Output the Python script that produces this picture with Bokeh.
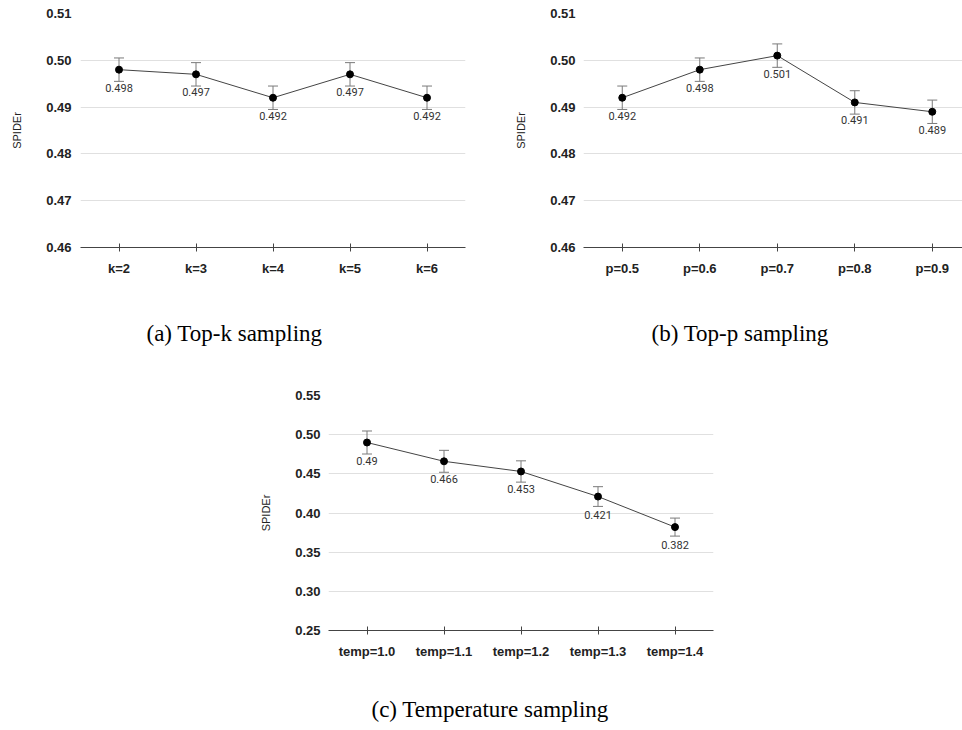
from bokeh.plotting import figure
from bokeh.models import (ColumnDataSource, Whisker, TeeHead, FixedTicker, Range1d, Spacer,
                          NumeralTickFormatter, LinearAxis, Title)
from bokeh.layouts import column, row
from bokeh.core.properties import value
from bokeh.embed import file_html
from bokeh.resources import INLINE

# ---- data ----
k_labels = ["k=2", "k=3", "k=4", "k=5", "k=6"]
k_values = [0.498, 0.497, 0.492, 0.497, 0.492]
k_errors = [0.0025, 0.0025, 0.0025, 0.0025, 0.0025]

p_labels = ["p=0.5", "p=0.6", "p=0.7", "p=0.8", "p=0.9"]
p_values = [0.492, 0.498, 0.501, 0.491, 0.489]
p_errors = [0.0025, 0.0025, 0.0025, 0.0025, 0.0025]

t_labels = ["temp=1.0", "temp=1.1", "temp=1.2", "temp=1.3", "temp=1.4"]
t_values = [0.49, 0.466, 0.453, 0.421, 0.382]
t_errors = [0.0147, 0.0140, 0.0136, 0.0126, 0.0115]

ticks_kp = [0.46, 0.47, 0.48, 0.49, 0.50, 0.51]
ticks_t = [0.25, 0.30, 0.35, 0.40, 0.45, 0.50, 0.55]

captions = ["(a) Top-k sampling", "(b) Top-p sampling", "(c) Temperature sampling"]
y_title = "SPIDEr"

TICK_FONT = "Liberation Sans"


def make_plot(labels, vals, errs, ticks, caption, width, height,
              bl, br, bt, bb, x_end, cap_offset, cap_standoff, ylab_standoff, gap=0):
    xs = list(range(len(labels)))
    src = ColumnDataSource(dict(
        x=xs, y=vals,
        upper=[v + e for v, e in zip(vals, errs)],
        lower=[v - e for v, e in zip(vals, errs)],
        label=[str(v) for v in vals],
    ))
    p = figure(width=width, height=height, output_backend="svg", toolbar_location=None,
               x_range=Range1d(-0.5, x_end), y_range=Range1d(ticks[0], ticks[-1]),
               title=None,
               min_border_left=bl, min_border_right=br, min_border_top=bt, min_border_bottom=bb)
    p.outline_line_color = None
    p.background_fill_color = "white"
    p.border_fill_color = "white"

    p.xgrid.visible = False
    p.ygrid.grid_line_color = "#e0e0e0"
    p.ygrid.grid_line_width = 1

    p.yaxis.ticker = FixedTicker(ticks=ticks)
    p.yaxis.formatter = NumeralTickFormatter(format="0.00")
    p.yaxis.axis_line_color = None
    p.yaxis.major_tick_line_color = None
    p.yaxis.minor_tick_line_color = None
    p.yaxis.major_tick_in = 0
    p.yaxis.major_tick_out = 0
    p.yaxis.minor_tick_in = 0
    p.yaxis.minor_tick_out = 0
    p.yaxis.major_label_standoff = ylab_standoff
    p.yaxis.major_label_text_font = TICK_FONT
    p.yaxis.major_label_text_font_style = "bold"
    p.yaxis.major_label_text_font_size = "13px"
    p.yaxis.major_label_text_color = "#222222"
    p.yaxis.axis_label = y_title
    p.yaxis.axis_label_text_font = TICK_FONT
    p.yaxis.axis_label_text_font_style = "normal"
    p.yaxis.axis_label_text_font_size = "11px"
    p.yaxis.axis_label_text_color = "#222222"
    p.yaxis.axis_label_standoff = 20

    p.xaxis.ticker = FixedTicker(ticks=xs)
    p.xaxis.major_label_overrides = {i: lab for i, lab in zip(xs, labels)}
    p.xaxis.axis_line_color = "#444444"
    p.xaxis.major_tick_line_color = "#444444"
    p.xaxis.major_tick_in = 4
    p.xaxis.major_tick_out = 4
    p.xaxis.minor_tick_line_color = None
    p.xaxis.minor_tick_in = 0
    p.xaxis.minor_tick_out = 0
    p.xaxis.major_label_standoff = 9
    p.xaxis.major_label_text_font = TICK_FONT
    p.xaxis.major_label_text_font_style = "bold"
    p.xaxis.major_label_text_font_size = "13px"
    p.xaxis.major_label_text_color = "#222222"

    if gap > 0:
        # invisible spacer axis between the tick labels and the caption
        sp = LinearAxis(ticker=FixedTicker(ticks=[xs[0]]), axis_line_color=None,
                        major_tick_line_color=None, minor_tick_line_color=None,
                        major_tick_in=0, major_tick_out=gap, minor_tick_in=0, minor_tick_out=0,
                        major_label_standoff=0, major_label_text_font_size="0px",
                        major_label_text_color=None)
        p.add_layout(sp, "below")

    cap = Title(text=caption, text_font="Liberation Serif", text_font_size="23px",
                text_font_style="normal", text_color="black", align="left",
                offset=cap_offset, standoff=cap_standoff)
    p.add_layout(cap, "below")

    wc = "#7a7a7a"
    w = Whisker(base="x", upper="upper", lower="lower", source=src,
                line_color=wc, line_width=1,
                upper_head=TeeHead(size=10, line_color=wc, line_width=1),
                lower_head=TeeHead(size=10, line_color=wc, line_width=1))
    p.add_layout(w)
    p.line("x", "y", source=src, line_color="#444444", line_width=1)
    p.scatter("x", "y", source=src, size=7, fill_color="black", line_color="black")
    p.text("x", "y", text="label", source=src, y_offset=14,
           text_align="center", text_baseline="top",
           text_font=value("Roboto"), text_font_size="11px", text_color="#333333")
    return p


pa = make_plot(k_labels, k_values, k_errors, ticks_kp, captions[0],
               500, 385, 80, 35, 13, 138, 4.5, 66, 80, 9)
pb = make_plot(p_labels, p_values, p_errors, ticks_kp, captions[1],
               462, 385, 83, 0, 13, 138, 4.39, 68, 80, 8)
pc = make_plot(t_labels, t_values, t_errors, ticks_t, captions[2],
               485, 344, 80, 20, 10, 99, 4.5, 43, 10, 8, gap=28)

layout = column(row(pa, pb), row(Spacer(width=248, height=344), pc))

open("out.html", "w").write(file_html(layout, INLINE))
